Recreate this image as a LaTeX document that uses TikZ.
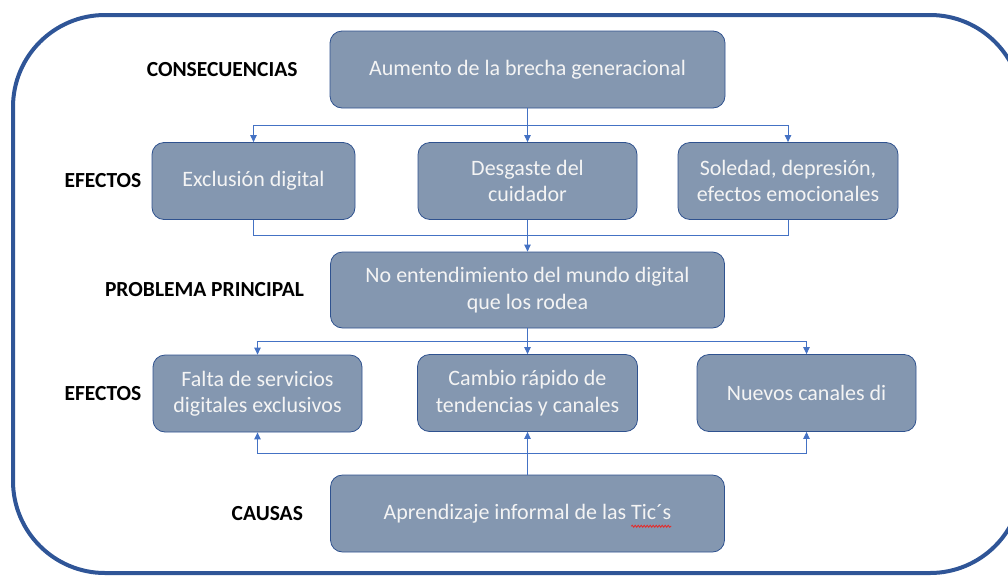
\documentclass[tikz,border=0pt]{standalone}
\usepackage{fontspec}
\setmainfont{Carlito}
\usetikzlibrary{positioning,arrows.meta,calc,decorations.pathmorphing}
\definecolor{boxfill}{HTML}{8497B0}
\definecolor{boxline}{HTML}{2F528F}
\definecolor{linkblue}{HTML}{4472C4}
\definecolor{framecol}{HTML}{2F5597}
\definecolor{boxtext}{HTML}{F4F4F4}
\definecolor{spellred}{HTML}{E03030}
\newlength\ticwd
\newlength\causawd
\newcommand\boxfont{\fontsize{22}{26.5}\selectfont}

\begin{document}
\settowidth\ticwd{\boxfont Tic´s}%
\settowidth\causawd{\boxfont Aprendizaje informal de las Tic´s}%
\begin{tikzpicture}[
    x=1pt, y=-1pt,
    box/.style={draw=boxline, line width=0.8pt, fill=boxfill, rounded corners=12pt,
      text=boxtext, align=center, minimum height=77pt, inner sep=0pt,
      font=\boxfont},
    lbl/.style={font=\fontsize{21.5}{26}\selectfont\bfseries, inner sep=0pt},
    link/.style={draw=linkblue, line width=0.9pt},
    arr/.style={link, -{Triangle[length=7pt,width=6.5pt]}}
  ]
  \useasboundingbox (0,0) rectangle (1008,576);
  \clip (0,0) rectangle (1008,576);

  % outer frame
  \draw[framecol, line width=4pt, rounded corners=92pt] (13,15) rectangle (1022,573);

  % boxes
  \node[box, minimum width=395pt] (cons) at (527.5,69.5) {Aumento de la brecha generacional};
  \node[box, minimum width=203pt] (ef1) at (253.5,181) {Exclusión digital};
  \node[box, minimum width=219pt] (ef2) at (527.5,181) {Desgaste del\\cuidador};
  \node[box, minimum width=220pt] (ef3) at (788,181) {Soledad, depresión,\\efectos emocionales};
  \node[box, minimum width=394pt, minimum height=76pt] (prob) at (527.5,290) {No entendimiento del mundo digital\\que los rodea};
  \node[box, minimum width=209pt] (ca1) at (257.5,393.5) {Falta de servicios\\digitales exclusivos};
  \node[box, minimum width=220pt] (ca2) at (527.5,393) {Cambio rápido de\\tendencias y canales};
  \node[box, minimum width=219pt] (ca3) at (806.5,393) {Nuevos canales di};
  \node[box, minimum width=394pt] (causa) at (527.5,513.5) {Aprendizaje informal de las Tic´s};

  % row labels
  \node[lbl, left=32pt of cons] (lcons) {CONSECUENCIAS};
  \node[lbl, left=10pt of ef1] (lef1) {EFECTOS};
  \node[lbl, left=26pt of prob] (lprob) {PROBLEMA PRINCIPAL};
  \node[lbl, left=11pt of ca1] (lef2) {EFECTOS};
  \node[lbl, left=27pt of causa] (lcausa) {CAUSAS};

  % connectors
  \coordinate (bus1) at ($(cons.south)!.5!(ef2.north)$);
  \draw[arr] (cons.south) -- (ef2.north);
  \draw[arr] (bus1) -| (ef1.north);
  \draw[arr] (bus1) -| (ef3.north);

  \coordinate (bus2) at ($(ef2.south)!.5!(prob.north)$);
  \draw[link] (ef1.south) |- (bus2);
  \draw[link] (ef3.south) |- (bus2);
  \draw[arr] (ef2.south) -- (prob.north);

  \coordinate (bus3) at ($(prob.south)!.5!(ca2.north)$);
  \draw[arr] (prob.south) -- (ca2.north);
  \draw[arr] (bus3) -| (ca1.north);
  \draw[arr] (bus3) -| (ca3.north);

  \coordinate (bus4) at ($(causa.north)!.5!(ca2.south)$);
  \draw[arr] (causa.north) -- (ca2.south);
  \draw[arr] (bus4) -| (ca1.south);
  \draw[arr] (bus4) -| (ca3.south);

  % spell-check underline
  \coordinate (sq1) at ([xshift=0.5\causawd-\ticwd, yshift=-7pt]causa.base);
  \coordinate (sq2) at ([xshift=0.5\causawd, yshift=-7pt]causa.base);
  \draw[spellred, line width=0.9pt, decorate, decoration={snake, amplitude=1pt, segment length=3pt}]
    (sq1) -- (sq2);
\end{tikzpicture}
\end{document}
